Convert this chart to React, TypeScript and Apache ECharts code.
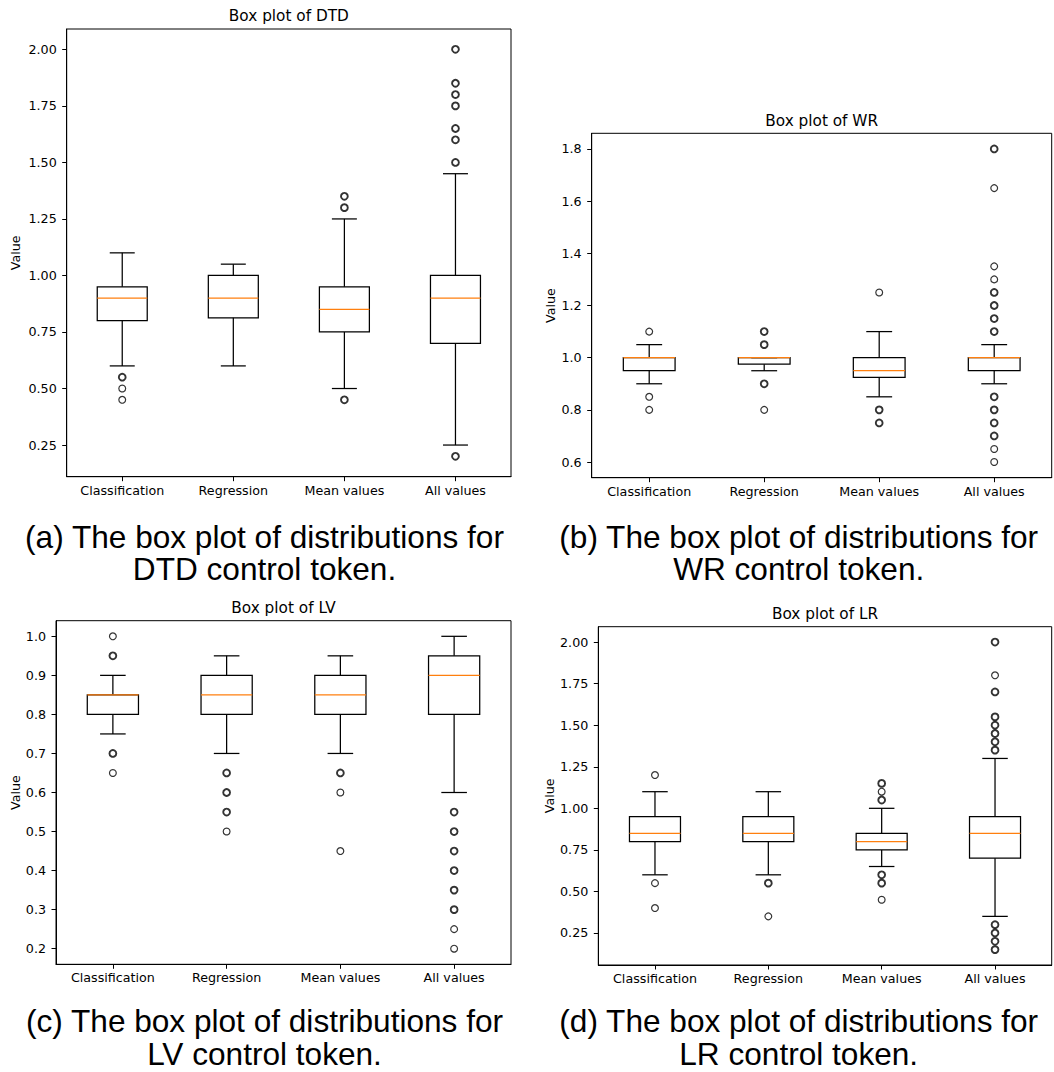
import React, { useEffect, useRef } from "react";
import * as echarts from "echarts";

const categories = ["Classification", "Regression", "Mean values", "All values"];

// each box: [lower whisker, Q1, median, Q3, upper whisker]
const dtdBoxes = [
  [0.6, 0.8, 0.9, 0.95, 1.1],
  [0.6, 0.8125, 0.9, 1.0, 1.05],
  [0.5, 0.75, 0.85, 0.95, 1.25],
  [0.25, 0.7, 0.9, 1.0, 1.45],
];
const wrBoxes = [
  [0.9, 0.95, 1.0, 1.0, 1.05],
  [0.95, 0.975, 1.0, 1.0, 1.0],
  [0.85, 0.925, 0.95, 1.0, 1.1],
  [0.9, 0.95, 1.0, 1.0, 1.05],
];
const lvBoxes = [
  [0.75, 0.8, 0.85, 0.85, 0.9],
  [0.7, 0.8, 0.85, 0.9, 0.95],
  [0.7, 0.8, 0.85, 0.9, 0.95],
  [0.6, 0.8, 0.9, 0.95, 1.0],
];
const lrBoxes = [
  [0.6, 0.8, 0.85, 0.95, 1.1],
  [0.6, 0.8, 0.85, 0.95, 1.1],
  [0.65, 0.75, 0.8, 0.85, 1.0],
  [0.35, 0.7, 0.85, 0.95, 1.3],
];

// outliers per category (repeated values = overlapping points)
const dtdOutliers = [
  [0.55, 0.55, 0.5, 0.45],
  [],
  [1.35, 1.35, 1.3, 1.3, 0.45, 0.45],
  [2.0, 2.0, 1.85, 1.85, 1.8, 1.8, 1.75, 1.75, 1.65, 1.65, 1.6, 1.6, 1.5, 1.5, 0.2, 0.2],
];
const wrOutliers = [
  [1.1, 0.85, 0.8],
  [1.1, 1.1, 1.05, 1.05, 0.9, 0.9, 0.8],
  [1.25, 0.8, 0.8, 0.75, 0.75],
  [1.8, 1.8, 1.65, 1.35, 1.3, 1.25, 1.25, 1.2, 1.2, 1.15, 1.15, 1.1, 1.1, 0.85, 0.85, 0.8, 0.8, 0.75, 0.75, 0.7, 0.7, 0.65, 0.6],
];
const lvOutliers = [
  [1.0, 0.95, 0.95, 0.7, 0.7, 0.65],
  [0.65, 0.65, 0.6, 0.6, 0.55, 0.55, 0.5],
  [0.65, 0.65, 0.6, 0.45],
  [0.55, 0.55, 0.5, 0.5, 0.45, 0.45, 0.4, 0.4, 0.35, 0.35, 0.3, 0.3, 0.25, 0.2],
];
const lrOutliers = [
  [1.2, 0.55, 0.4],
  [0.55, 0.55, 0.35],
  [1.15, 1.15, 1.1, 1.05, 1.05, 0.6, 0.6, 0.55, 0.55, 0.45],
  [2.0, 2.0, 1.8, 1.7, 1.7, 1.55, 1.55, 1.5, 1.5, 1.45, 1.45, 1.4, 1.4, 1.35, 1.35, 0.3, 0.3, 0.25, 0.25, 0.2, 0.2, 0.15, 0.15],
];

// y-axis tick labels
const dtdTicks = [0.25, 0.5, 0.75, 1.0, 1.25, 1.5, 1.75, 2.0];
const wrTicks = [0.6, 0.8, 1.0, 1.2, 1.4, 1.6, 1.8];
const lvTicks = [0.2, 0.3, 0.4, 0.5, 0.6, 0.7, 0.8, 0.9, 1.0];
const lrTicks = [0.25, 0.5, 0.75, 1.0, 1.25, 1.5, 1.75, 2.0];

// y-axis limits (data range with 5% margins)
const dtdRange = [0.11, 2.09];
const wrRange = [0.54, 1.86];
const lvRange = [0.16, 1.04];
const lrRange = [0.0575, 2.0925];

const plotTitles = ["Box plot of DTD", "Box plot of WR", "Box plot of LV", "Box plot of LR"];
const captions = [
  "(a) The box plot of distributions for\nDTD control token.",
  "(b) The box plot of distributions for\nWR control token.",
  "(c) The box plot of distributions for\nLV control token.",
  "(d) The box plot of distributions for\nLR control token.",
];

const panels = [
  { boxes: dtdBoxes, outliers: dtdOutliers, ticks: dtdTicks, range: dtdRange, dec: 2 },
  { boxes: wrBoxes, outliers: wrOutliers, ticks: wrTicks, range: wrRange, dec: 1 },
  { boxes: lvBoxes, outliers: lvOutliers, ticks: lvTicks, range: lvRange, dec: 1 },
  { boxes: lrBoxes, outliers: lrOutliers, ticks: lrTicks, range: lrRange, dec: 2 },
];

// layout (pixels): capY = vertical centre of the two-line caption
const layouts = [
  { left: 66.7, top: 29, width: 444.3, height: 447.7, titleY: 15.5, nameGap: 45, capX: 264.5, capY: 552.8 },
  { left: 591.7, top: 133.3, width: 460, height: 344.4, titleY: 121.2, nameGap: 35, capX: 798.7, capY: 552.8 },
  { left: 56, top: 620.7, width: 455, height: 343.6, titleY: 607.8, nameGap: 34.5, capX: 264.5, capY: 1037.5 },
  { left: 598.3, top: 626.7, width: 453.4, height: 338.3, titleY: 613.8, nameGap: 42, capX: 798.7, capY: 1037.5 },
];
const CAPTION_LINE = 32.5;

const TICK_FONT = '"DejaVu Sans", sans-serif';
const CAPTION_FONT = '"Liberation Sans", Arial, sans-serif';

function buildOption() {
  const grid: any[] = [];
  const xAxis: any[] = [];
  const yAxis: any[] = [];
  const series: any[] = [];
  const graphic: any[] = [];

  panels.forEach((p, k) => {
    const L = layouts[k];
    grid.push({
      left: L.left,
      top: L.top,
      width: L.width,
      height: L.height,
      show: true,
      borderColor: "#000",
      borderWidth: 1,
      backgroundColor: "transparent",
      containLabel: false,
    });
    xAxis.push({
      type: "category",
      gridIndex: k,
      data: categories,
      boundaryGap: true,
      axisLine: { show: true, lineStyle: { color: "#000", width: 1 } },
      axisTick: { show: true, alignWithLabel: true, length: 4.5, lineStyle: { color: "#000", width: 1 } },
      axisLabel: { interval: 0, color: "#000", fontFamily: TICK_FONT, fontSize: 12.7, margin: 7 },
      splitLine: { show: false },
    });
    yAxis.push({
      type: "value",
      gridIndex: k,
      min: p.range[0],
      max: p.range[1],
      axisLine: { show: true, lineStyle: { color: "#000", width: 1 } },
      axisTick: { show: true, length: 4.5, customValues: p.ticks, lineStyle: { color: "#000", width: 1 } },
      axisLabel: {
        customValues: p.ticks,
        formatter: (v: number) => Number(v).toFixed(p.dec),
        color: "#000",
        fontFamily: TICK_FONT,
        fontSize: 12.7,
        margin: 10,
      },
      splitLine: { show: false },
      name: "Value",
      nameLocation: "middle",
      nameGap: L.nameGap,
      nameRotate: 90,
      nameTextStyle: { color: "#000", fontFamily: TICK_FONT, fontSize: 12.7 },
    });

    series.push({
      type: "custom",
      xAxisIndex: k,
      yAxisIndex: k,
      encode: { x: 0, y: [1, 2, 3, 4, 5] },
      data: p.boxes.map((b, i) => [i, b[0], b[1], b[2], b[3], b[4]]),
      renderItem: (params: any, api: any) => {
        const i = api.value(0);
        const band = api.size([1, 0])[0];
        const hw = band * 0.225;
        const cw = band * 0.1125;
        const pLo = api.coord([i, api.value(1)]);
        const x = pLo[0];
        const yLo = pLo[1];
        const yQ1 = api.coord([i, api.value(2)])[1];
        const yMed = api.coord([i, api.value(3)])[1];
        const yQ3 = api.coord([i, api.value(4)])[1];
        const yHi = api.coord([i, api.value(5)])[1];
        const ls = { stroke: "#000", lineWidth: 1.25, fill: "none" };
        return {
          type: "group",
          children: [
            { type: "line", shape: { x1: x, y1: yQ1, x2: x, y2: yLo }, style: ls },
            { type: "line", shape: { x1: x, y1: yQ3, x2: x, y2: yHi }, style: ls },
            { type: "line", shape: { x1: x - cw, y1: yLo, x2: x + cw, y2: yLo }, style: ls },
            { type: "line", shape: { x1: x - cw, y1: yHi, x2: x + cw, y2: yHi }, style: ls },
            { type: "rect", shape: { x: x - hw, y: yQ3, width: 2 * hw, height: yQ1 - yQ3 }, style: ls },
            {
              type: "line",
              shape: { x1: x - hw, y1: yMed, x2: x + hw, y2: yMed },
              style: { stroke: "#ff7f0e", lineWidth: 1.25 },
            },
          ],
        };
      },
      silent: true,
      z: 2,
    });

    const pts: any[] = [];
    p.outliers.forEach((list, i) => {
      const counts = new Map<number, number>();
      list.forEach((v) => counts.set(v, (counts.get(v) || 0) + 1));
      counts.forEach((c, v) => {
        pts.push({
          value: [i, v],
          itemStyle: { borderWidth: c > 1 ? 1.9 : 1.2 },
        });
      });
    });
    series.push({
      type: "scatter",
      xAxisIndex: k,
      yAxisIndex: k,
      symbol: "circle",
      symbolSize: 6.8,
      itemStyle: { color: "rgba(0,0,0,0)", borderColor: "#000", borderWidth: 1.2 },
      data: pts,
      silent: true,
      z: 3,
    });

    graphic.push({
      type: "text",
      x: L.left + L.width / 2,
      y: L.titleY,
      silent: true,
      style: {
        text: plotTitles[k],
        fill: "#000",
        font: `15.3px ${TICK_FONT}`,
        align: "center",
        verticalAlign: "middle",
        textAlign: "center",
        textVerticalAlign: "middle",
      },
    });
    graphic.push({
      type: "text",
      x: L.capX,
      y: L.capY,
      silent: true,
      style: {
        text: captions[k],
        fill: "#000",
        font: `31.6px ${CAPTION_FONT}`,
        lineHeight: CAPTION_LINE,
        align: "center",
        verticalAlign: "middle",
        textAlign: "center",
        textVerticalAlign: "middle",
      },
    });
  });

  return {
    animation: false,
    backgroundColor: "#fff",
    grid,
    xAxis,
    yAxis,
    series,
    graphic,
  };
}

export default function App() {
  const ref = useRef<HTMLDivElement>(null);
  useEffect(() => {
    if (!ref.current) return;
    const chart = echarts.init(ref.current, undefined, { renderer: "svg" });
    chart.setOption(buildOption() as any);
    return () => chart.dispose();
  }, []);
  return (
    <div
      ref={ref}
      style={{ position: "absolute", left: 0, top: 0, width: 1054, height: 1072, background: "#fff" }}
    />
  );
}
